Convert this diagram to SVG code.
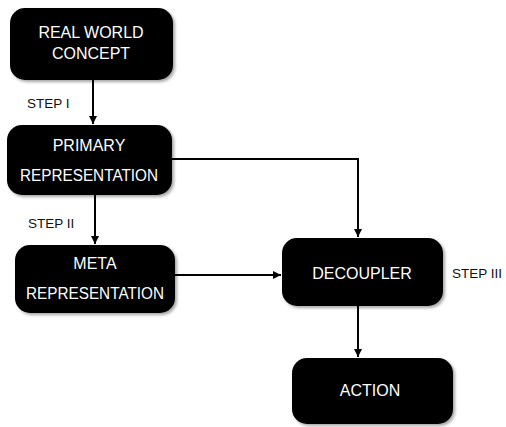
<svg xmlns="http://www.w3.org/2000/svg" width="506" height="427" viewBox="0 0 506 427">
  <defs>
    <marker id="arrow" viewBox="0 0 10 10" refX="10" refY="5" markerWidth="8" markerHeight="8" markerUnits="userSpaceOnUse" orient="auto">
      <path d="M0,0 L10,5 L0,10 z" fill="#000"/>
    </marker>
    <filter id="shadow" x="-10%" y="-10%" width="130%" height="130%">
      <feDropShadow dx="2" dy="2" stdDeviation="1.5" flood-color="#000" flood-opacity="0.35"/>
    </filter>
  </defs>
  <style>
    .box { fill: #000; filter: url(#shadow); }
    .label { fill: #fff; font-family: "Liberation Sans", Arial, sans-serif; font-size: 16px; text-anchor: middle; }
    .step { fill: #111; font-family: "Liberation Sans", Arial, sans-serif; font-size: 13.5px; }
    .conn { stroke: #000; stroke-width: 2; fill: none; marker-end: url(#arrow); }
  </style>
  <rect width="506" height="427" fill="#fff"/>

  <g id="connectors">
    <path class="conn" d="M93,80 V124"/>
    <path class="conn" d="M95,195 V244"/>
    <path class="conn" d="M172,159 H358 V237"/>
    <path class="conn" d="M175,275 H281"/>
    <path class="conn" d="M358,306 V357"/>
  </g>

  <g id="real-world-concept">
    <rect class="box" x="10" y="8" width="163" height="72" rx="15"/>
    <text class="label" x="91" y="38">REAL WORLD</text>
    <text class="label" x="91" y="59">CONCEPT</text>
  </g>

  <g id="primary-representation">
    <rect class="box" x="7" y="125" width="165" height="70" rx="15"/>
    <text class="label" x="89" y="151">PRIMARY</text>
    <text class="label" x="89" y="181" textLength="138" lengthAdjust="spacingAndGlyphs">REPRESENTATION</text>
  </g>

  <g id="meta-representation">
    <rect class="box" x="15" y="245" width="160" height="68" rx="15"/>
    <text class="label" x="95" y="269">META</text>
    <text class="label" x="95" y="299" textLength="138" lengthAdjust="spacingAndGlyphs">REPRESENTATION</text>
  </g>

  <g id="decoupler">
    <rect class="box" x="282" y="238" width="161" height="68" rx="15"/>
    <text class="label" x="362" y="279">DECOUPLER</text>
  </g>

  <g id="action">
    <rect class="box" x="292" y="358" width="161" height="66" rx="15"/>
    <text class="label" x="370" y="396">ACTION</text>
  </g>

  <g id="step-labels">
    <text class="step" x="27" y="108">STEP I</text>
    <text class="step" x="28" y="228">STEP II</text>
    <text class="step" x="452" y="278">STEP III</text>
  </g>
</svg>
